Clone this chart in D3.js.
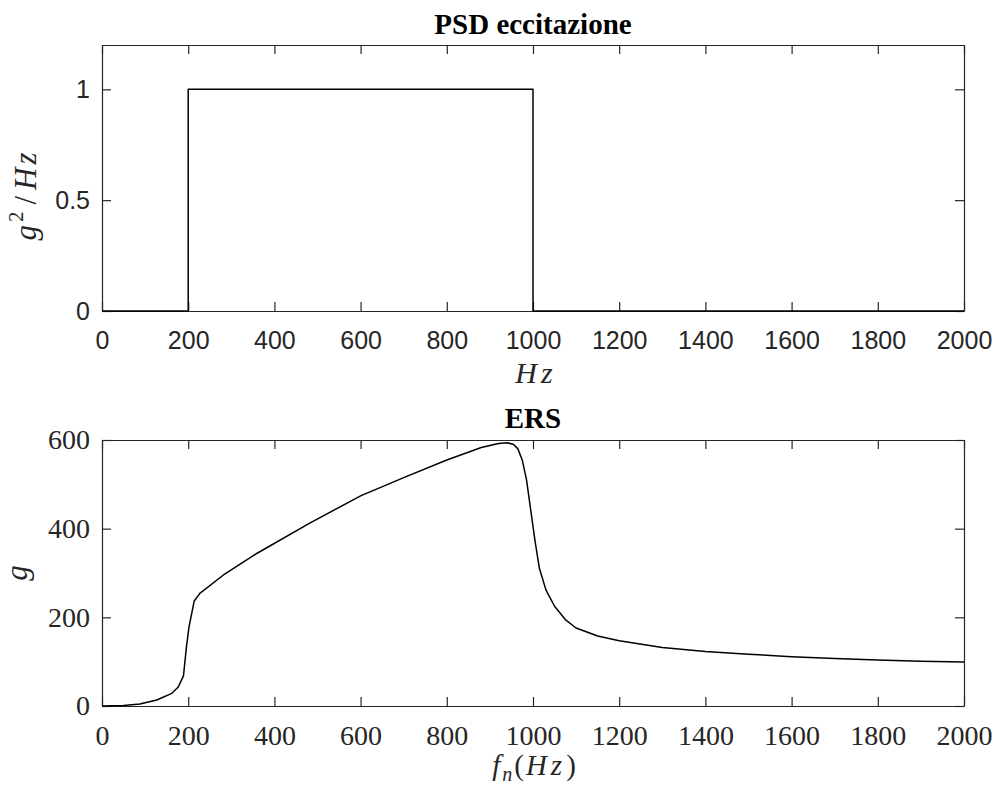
<!DOCTYPE html>
<html>
<head>
<meta charset="utf-8">
<script src="https://cdn.jsdelivr.net/npm/d3@7"></script>
<style>
  html, body { margin: 0; padding: 0; background: #fff; }
  svg { display: block; }
</style>
</head>
<body>
<svg id="chart" width="996" height="790"></svg>
<script>
// ---------- data ----------
const psdFreq = [0, 200, 200, 1000, 1000, 2000];
const psdValue = [0, 0, 1, 1, 0, 0];

const ersFreq = [0, 50, 88, 127, 162, 177, 189, 196, 202, 214, 227, 281, 359, 483, 600, 700, 800, 880, 920, 940, 955, 965, 975, 985, 995, 1005, 1015, 1030, 1050, 1075, 1100, 1150, 1200, 1300, 1400, 1500, 1600, 1700, 1800, 1900, 2000];
const ersValue = [0, 1, 4.5, 13.5, 28.6, 43, 68, 134, 179, 237, 254, 295, 344, 413, 474, 515, 555, 583, 592, 594, 590, 580, 555, 510, 440, 370, 310, 262, 225, 195, 176, 158, 147, 132, 123, 117, 111, 107, 104, 101, 99];

const xTicks = [0, 200, 400, 600, 800, 1000, 1200, 1400, 1600, 1800, 2000];
const psdYTicks = [0, 0.5, 1];
const ersYTicks = [0, 200, 400, 600];

// ---------- layout ----------
const svg = d3.select("#chart");
const L = 102, R = 964;
const axisColor = "#262626";

function panel(cfg) {
  const g = svg.append("g");
  const x = d3.scaleLinear().domain([0, 2000]).range([L, R]);
  const y = d3.scaleLinear().domain(cfg.yDomain).range([cfg.bottom, cfg.top]);

  const ax = g.append("g").attr("transform", `translate(0,${cfg.bottom})`)
    .call(d3.axisBottom(x).tickValues(xTicks).tickSize(-9).tickSizeOuter(0)
      .tickPadding(cfg.xPad).tickFormat(d3.format("d")));
  const at = g.append("g").attr("transform", `translate(0,${cfg.top})`)
    .call(d3.axisTop(x).tickValues(xTicks).tickSize(-9).tickSizeOuter(0).tickFormat(""));
  const ay = g.append("g").attr("transform", `translate(${L},0)`)
    .call(d3.axisLeft(y).tickValues(cfg.yTicks).tickSize(-9).tickSizeOuter(0)
      .tickPadding(12).tickFormat(cfg.yFormat));
  const ar = g.append("g").attr("transform", `translate(${R},0)`)
    .call(d3.axisRight(y).tickValues(cfg.yTicks).tickSize(-9).tickSizeOuter(0).tickFormat(""));

  [ax, at, ay, ar].forEach(a => {
    a.attr("font-family", null).attr("font-size", null);
    a.selectAll("path.domain").attr("stroke", axisColor).attr("stroke-width", 1.2);
    a.selectAll(".tick line").attr("stroke", axisColor).attr("stroke-width", 1.2);
    a.selectAll(".tick text").attr("fill", axisColor)
      .attr("font-family", cfg.tickFont).attr("font-size", cfg.tickSize);
  });
  ax.selectAll(".tick text").attr("dy", null).attr("y", cfg.xPad).attr("dominant-baseline", "hanging");

  const line = d3.line().x(d => x(d[0])).y(d => y(d[1]));
  g.append("path")
    .datum(cfg.xs.map((f, i) => [f, cfg.ys[i]]))
    .attr("d", line)
    .attr("fill", "none")
    .attr("stroke", "#000")
    .attr("stroke-width", 1.5)
    .attr("stroke-linejoin", "round");

  g.append("text")
    .attr("x", (L + R) / 2).attr("y", cfg.titleY)
    .attr("text-anchor", "middle")
    .attr("font-family", "'Liberation Serif', 'Times New Roman', serif")
    .attr("font-weight", "bold").attr("font-size", 29)
    .attr("fill", "#000")
    .text(cfg.title);
  return { g, x, y };
}

panel({
  top: 45, bottom: 311, yDomain: [0, 1.2], yTicks: psdYTicks,
  yFormat: d => d === 0.5 ? "0.5" : d3.format("d")(d),
  tickFont: "'Liberation Sans', Arial, sans-serif", tickSize: 25, xPad: 20,
  xs: psdFreq, ys: psdValue, title: "PSD eccitazione", titleY: 34
});

panel({
  top: 440, bottom: 706, yDomain: [0, 600], yTicks: ersYTicks,
  yFormat: d3.format("d"),
  tickFont: "'Liberation Serif', 'Times New Roman', serif", tickSize: 28, xPad: 19,
  xs: ersFreq, ys: ersValue, title: "ERS", titleY: 428
});

const serif = "'Liberation Serif', 'Times New Roman', serif";

// top x label: Hz
svg.append("text")
  .attr("x", 536).attr("y", 383)
  .attr("text-anchor", "middle")
  .attr("font-family", serif).attr("font-style", "italic").attr("font-size", 30)
  .attr("letter-spacing", 4)
  .attr("fill", axisColor)
  .text("Hz");

// top y label: g^2/Hz
const yl1 = svg.append("text")
  .attr("transform", "translate(36,195) rotate(-90)")
  .attr("text-anchor", "middle")
  .attr("font-family", serif).attr("font-style", "italic").attr("font-size", 31)
  .attr("letter-spacing", 3)
  .attr("fill", axisColor);
yl1.append("tspan").text("g");
yl1.append("tspan").attr("font-size", 21).attr("font-style", "normal").attr("dy", -13).text("2");
yl1.append("tspan").attr("dy", 13).attr("dx", 4).attr("font-style", "normal").text("/");
yl1.append("tspan").attr("dx", 3).text("Hz");

// bottom x label: f_n(Hz)
const xl2 = svg.append("text")
  .attr("x", 535).attr("y", 775)
  .attr("text-anchor", "middle")
  .attr("font-family", serif).attr("font-size", 29)
  .attr("letter-spacing", 2)
  .attr("fill", axisColor);
xl2.append("tspan").attr("font-style", "italic").text("f");
xl2.append("tspan").attr("font-style", "italic").attr("font-size", 20).attr("dy", 6).text("n");
xl2.append("tspan").attr("dy", -6).text("(");
xl2.append("tspan").attr("font-style", "italic").attr("letter-spacing", 4).text("Hz");
xl2.append("tspan").text(")");

// bottom y label: g
svg.append("text")
  .attr("transform", "translate(27,573) rotate(-90)")
  .attr("text-anchor", "middle")
  .attr("font-family", serif).attr("font-style", "italic").attr("font-size", 31)
  .attr("fill", axisColor)
  .text("g");
</script>
</body>
</html>
